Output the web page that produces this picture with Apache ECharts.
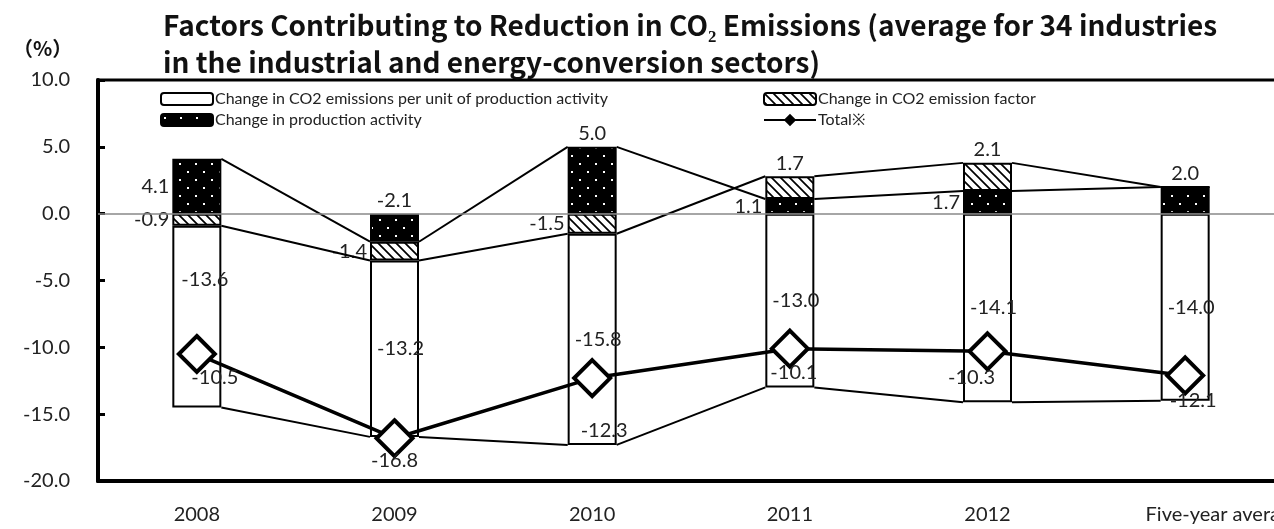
<!DOCTYPE html>
<html>
<head>
<meta charset="utf-8">
<script src="https://cdn.jsdelivr.net/npm/echarts@6/dist/echarts.min.js"></script>
<style>
  html, body { margin: 0; padding: 0; background: #fff; }
  #chart { width: 1274px; height: 529px; }
</style>
</head>
<body>
<div id="chart"></div>
<script>
// data
const years = ['2008', '2009', '2010', '2011', '2012', 'Five-year average']
const unitChange = [-13.6, -13.2, -15.8, -13.0, -14.1, -14.0]   // per unit of production activity
const factorChange = [-0.9, -1.4, -1.5, 1.7, 2.1, 0.0]          // CO2 emission factor
const prodChange = [4.1, -2.1, 5.0, 1.1, 1.7, 2.0]              // production activity
const total = [-10.5, -16.8, -12.3, -10.1, -10.3, -12.1]
const yTicks = [-20, -15, -10, -5, 0, 5, 10]

// label placement (style only)
const prodLabelPos = ['left', 'top', 'top', 'left', 'left', 'top']
const unitLabelOffset = [[8, -37], [6, 0], [6, 0], [6, 0], [6, 0], [6, 0]]
const totalLabelOffset = [[18, 24], [0, 22], [12, 52], [4, 24], [-16, 26], [8, 25]]

const FONT = 'Lato'
const BAR_W = 49

// patterns
const makeHatch = () => {
  const c = document.createElement('canvas')
  c.width = 9; c.height = 9
  const g = c.getContext('2d')
  g.fillStyle = '#fff'
  g.fillRect(0, 0, 9, 9)
  g.strokeStyle = '#000'
  g.lineWidth = 1.7
  g.beginPath()
  g.moveTo(-2, -2); g.lineTo(11, 11)
  g.moveTo(-2, 7); g.lineTo(2, 11)
  g.moveTo(7, -2); g.lineTo(11, 2)
  g.stroke()
  return c
}
const makeDots = () => {
  const c = document.createElement('canvas')
  c.width = 16; c.height = 16
  const g = c.getContext('2d')
  g.fillStyle = '#000'
  g.fillRect(0, 0, 16, 16)
  g.fillStyle = '#fff'
  g.fillRect(3, 3, 2, 2)
  g.fillRect(11, 11, 2, 2)
  return c
}

// stack ends the way echarts stacks them (same sign), order: prod, factor, unit
const pos = years.map(() => 0)
const neg = years.map(() => 0)
const stackEnd = (vals) => vals.map((v, i) => {
  if (v >= 0) { pos[i] += v; return pos[i] } else { neg[i] += v; return neg[i] }
})
const prodEnd = stackEnd(prodChange)
const factorEnd = stackEnd(factorChange)
const unitEnd = stackEnd(unitChange)

const labelStyle = { color: '#222', fontFamily: FONT, fontSize: 20 }

// Excel-like series lines between neighbouring bars
const seriesLines = (ends) => ({
  type: 'custom',
  silent: true,
  z: 3,
  data: ends.map((v, i) => [i, v]),
  encode: { x: 0, y: 1 },
  renderItem: (params, api) => {
    const i = params.dataIndex
    if (i >= ends.length - 1) return
    const p0 = api.coord([i, ends[i]])
    const p1 = api.coord([i + 1, ends[i + 1]])
    return {
      type: 'line',
      shape: { x1: p0[0] + BAR_W / 2, y1: p0[1], x2: p1[0] - BAR_W / 2, y2: p1[1] },
      style: { stroke: '#000', lineWidth: 2 }
    }
  }
})

const chart = echarts.init(document.getElementById('chart'))

const legendItem = (name, left, top, extra) => ({
  data: [name],
  left, top,
  itemWidth: 52,
  itemHeight: 12,
  selectedMode: false,
  textStyle: { color: '#222', fontFamily: FONT, fontSize: 16, padding: [0, 0, 0, -3] },
  ...extra
})

const option = {
  animation: false,
  title: [
    {
      text: 'Factors Contributing to Reduction in CO₂ Emissions (average for 34 industries\nin the industrial and energy-conversion sectors)',
      left: 158,
      top: 2,
      textStyle: { fontFamily: 'Noto Sans CJK JP', fontWeight: 'bold', fontSize: 28, lineHeight: 37, color: '#111' }
    },
    {
      text: '（%）',
      left: 8,
      top: 33,
      textStyle: { fontFamily: 'Noto Sans CJK JP', fontWeight: 'bold', fontSize: 20, color: '#111' }
    }
  ],
  legend: [
    legendItem('Change in CO2 emissions per unit of production activity', 155, 86),
    legendItem('Change in CO2 emission factor', 758, 86),
    legendItem('Change in production activity', 155, 107),
    legendItem('Total※', 758, 107, { itemStyle: { color: '#000', borderColor: '#000', borderWidth: 2 } })
  ],
  grid: {
    left: 98, width: 1186, top: 80, bottom: 48,
    outerBoundsMode: 'none',
    show: true, borderColor: '#000', borderWidth: 3
  },
  xAxis: {
    type: 'category',
    data: years.map((y, i) => i === years.length - 1
      ? { value: y, textStyle: { padding: [0, 0, 0, 76] } }
      : y),
    axisLine: { onZero: false, lineStyle: { color: '#000', width: 4 } },
    axisTick: { show: false },
    axisLabel: { color: '#222', fontFamily: FONT, fontSize: 20, margin: 24, interval: 0 }
  },
  yAxis: {
    type: 'value',
    min: yTicks[0],
    max: yTicks[yTicks.length - 1],
    interval: 5,
    axisLine: { show: true, lineStyle: { color: '#000', width: 4 } },
    axisTick: { show: true, inside: true, length: 7, lineStyle: { color: '#000', width: 3 } },
    splitLine: { show: false },
    axisLabel: { color: '#222', fontFamily: FONT, fontSize: 20, margin: 28, formatter: (v) => v.toFixed(1) }
  },
  series: [
    {
      name: 'Change in production activity',
      type: 'bar',
      stack: 'f',
      barWidth: BAR_W,
      itemStyle: { color: { image: makeDots(), repeat: 'repeat' }, borderColor: '#000', borderWidth: 2 },
      label: { show: true, ...labelStyle, distance: 3, formatter: (p) => p.value.toFixed(1) },
      data: prodChange.map((v, i) => ({ value: v, label: { position: prodLabelPos[i] } })),
      z: 2
    },
    {
      name: 'Change in CO2 emission factor',
      type: 'bar',
      stack: 'f',
      barWidth: BAR_W,
      itemStyle: { color: { image: makeHatch(), repeat: 'repeat' }, borderColor: '#000', borderWidth: 2 },
      label: { show: true, ...labelStyle, distance: 3, formatter: (p) => p.value.toFixed(1) },
      data: factorChange.map((v, i) => ({
        value: v,
        label: v === 0 ? { show: false } : { position: v < 0 ? 'left' : 'top' }
      })),
      z: 2
    },
    {
      name: 'Change in CO2 emissions per unit of production activity',
      type: 'bar',
      stack: 'f',
      barWidth: BAR_W,
      itemStyle: { color: '#fff', borderColor: '#000', borderWidth: 2 },
      label: { show: true, ...labelStyle, position: 'inside', formatter: (p) => p.value.toFixed(1) },
      data: unitChange.map((v, i) => ({ value: v, label: { offset: unitLabelOffset[i] } })),
      z: 2
    },
    seriesLines(prodEnd),
    seriesLines(factorEnd),
    seriesLines(unitEnd),
    {
      name: 'Total※',
      type: 'line',
      symbol: 'diamond',
      symbolSize: 36,
      lineStyle: { color: '#000', width: 3.5 },
      itemStyle: { color: '#fff', borderColor: '#000', borderWidth: 4 },
      label: { show: true, ...labelStyle, position: 'inside', formatter: (p) => p.value.toFixed(1) },
      data: total.map((v, i) => ({ value: v, label: { offset: totalLabelOffset[i] } })),
      markLine: {
        silent: true,
        symbol: 'none',
        label: { show: false },
        lineStyle: { color: '#888', width: 1.5, type: 'solid' },
        data: [{ yAxis: 0 }]
      },
      z: 5
    }
  ]
}

chart.setOption(option)
</script>
</body>
</html>
